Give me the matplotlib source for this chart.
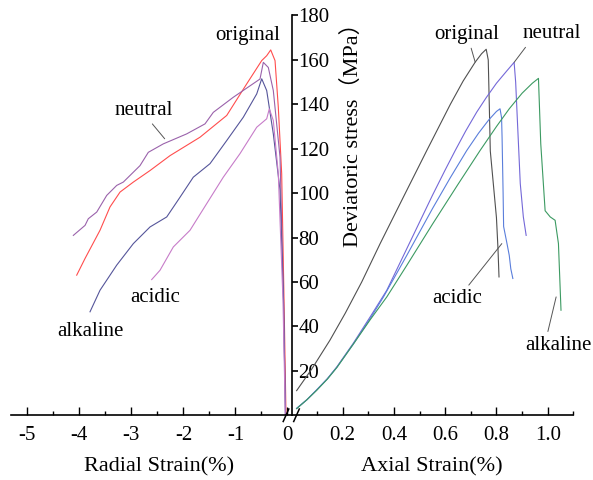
import matplotlib
matplotlib.use("Agg")
import matplotlib.pyplot as plt
from matplotlib.lines import Line2D
from matplotlib.ticker import FixedLocator

plt.rcParams['font.family'] = ['Liberation Serif', 'Noto Sans CJK SC', 'DejaVu Sans']
plt.rcParams['axes.unicode_minus'] = False

# ---------------- data: radial strain (left) ----------------
rad_original_x = [-4.052, -3.892, -3.604, -3.412, -3.219, -2.963, -2.642, -2.258, -1.681, -1.167,
                  -0.783, -0.494, -0.398, -0.321, -0.238, -0.175, -0.110, -0.065, -0.027]
rad_original_y = [63.1, 70.6, 83.3, 93.8, 100.5, 105.0, 110.2, 116.9, 125.2, 135.0,
                  149.2, 159.7, 161.9, 164.5, 159.7, 138.7, 108.8, 51.8, 0.0]

rad_neutral_x = [-4.117, -3.892, -3.829, -3.667, -3.475, -3.283, -3.156, -2.835, -2.675, -2.387,
                 -1.937, -1.585, -1.425, -1.040, -0.527, -0.463, -0.367, -0.271, -0.142, -0.075, -0.037]
rad_neutral_y = [81.0, 85.5, 88.5, 91.5, 99.0, 103.5, 105.0, 112.4, 118.4, 122.2,
                 126.7, 131.2, 136.4, 143.2, 151.4, 158.9, 156.6, 146.2, 116.2, 51.8, 0.0]

rad_alkaline_x = [-3.796, -3.604, -3.283, -2.963, -2.642, -2.321, -2.065, -1.810, -1.488, -1.167,
                  -0.848, -0.590, -0.494, -0.398, -0.271, -0.142, -0.075, -0.037]
rad_alkaline_y = [46.6, 56.3, 67.6, 77.3, 84.8, 89.3, 98.2, 107.2, 113.3, 123.7,
                  134.2, 144.7, 151.5, 146.2, 126.7, 101.3, 51.8, 0.0]

rad_acidic_x = [-2.610, -2.450, -2.194, -1.873, -1.552, -1.233, -0.912, -0.590, -0.398, -0.348,
                -0.271, -0.175, -0.085, -0.040]
rad_acidic_y = [61.1, 65.3, 75.8, 83.3, 95.3, 107.2, 117.8, 129.7, 133.5, 138.0,
                132.7, 108.8, 51.8, 0.0]

# ---------------- data: axial strain (right) ----------------
ax_original_x = [0.020, 0.080, 0.150, 0.210, 0.274, 0.346, 0.440, 0.528, 0.620, 0.670,
                 0.717, 0.742, 0.760, 0.768, 0.772, 0.776, 0.788, 0.800, 0.806, 0.810]
ax_original_y = [11.1, 21.0, 33.8, 46.0, 60.0, 77.3, 99.0, 119.2, 140.0, 150.5,
                 159.0, 162.8, 164.8, 160.0, 140.0, 119.0, 104.0, 89.0, 75.0, 62.3]

ax_neutral_x = [0.020, 0.060, 0.098, 0.140, 0.177, 0.241, 0.307, 0.372, 0.450, 0.550,
                0.600, 0.639, 0.680, 0.723, 0.760, 0.800, 0.840, 0.869, 0.875, 0.880,
                0.893, 0.905, 0.916]
ax_neutral_y = [3.1, 7.0, 11.4, 16.5, 21.8, 32.4, 44.3, 56.3, 75.0, 99.0,
                110.5, 119.2, 128.0, 136.5, 143.0, 149.5, 155.0, 158.9, 150.0, 137.2,
                104.3, 89.3, 81.0]

ax_acidic_x = [0.020, 0.060, 0.098, 0.140, 0.177, 0.241, 0.307, 0.359, 0.450, 0.550,
               0.620, 0.684, 0.730, 0.770, 0.800, 0.814, 0.820, 0.822, 0.826, 0.828,
               0.840, 0.850, 0.856, 0.864]
ax_acidic_y = [3.1, 7.0, 11.4, 16.4, 21.6, 32.0, 43.5, 53.3, 72.0, 93.0,
               107.0, 119.2, 127.0, 133.0, 136.8, 138.0, 134.0, 125.0, 100.0, 85.0,
               78.0, 72.0, 66.0, 61.6]

ax_alkaline_x = [0.020, 0.060, 0.098, 0.140, 0.177, 0.241, 0.307, 0.372, 0.450, 0.550,
                 0.650, 0.736, 0.800, 0.850, 0.900, 0.940, 0.964, 0.973, 0.990, 1.010,
                 1.029, 1.042, 1.052]
ax_alkaline_y = [3.0, 7.0, 11.2, 16.3, 21.5, 32.0, 43.0, 53.3, 67.5, 86.0,
                 104.0, 119.2, 130.0, 138.0, 145.0, 149.5, 151.7, 122.2, 92.1, 89.3,
                 87.8, 77.3, 47.3]

rad_ticks = [-5, -4, -3, -2, -1, 0]
rad_ticklabels = ['-5', '-4', '-3', '-2', '-1', '0']
ax_ticks = [0.2, 0.4, 0.6, 0.8, 1.0]
ax_ticklabels = ['0.2', '0.4', '0.6', '0.8', '1.0']
y_ticks = [20, 40, 60, 80, 100, 120, 140, 160, 180]

# colours
c_rad = {'original': '#ff4d4d', 'neutral': '#9a62ab', 'alkaline': '#55559a', 'acidic': '#c77cc9'}
c_ax = {'original': '#505050', 'neutral': '#7468d8', 'acidic': '#5a7edb', 'alkaline': '#3c9a62'}

W, H = 593, 480
fig = plt.figure(figsize=(W / 100, H / 100), dpi=100)

def fx(px):
    return px / W

def fy(py):
    return 1 - py / H

y_bot, y_top = 415.3, 15.5
axL = fig.add_axes([fx(11.3), fy(y_bot), fx(291.5) - fx(11.3), (y_bot - y_top) / H])
axR = fig.add_axes([fx(291.5), fy(y_bot), fx(573.3) - fx(291.5), (y_bot - y_top) / H])

lw = 0.8
axL.plot(rad_original_x, rad_original_y, color=c_rad['original'], lw=lw)
axL.plot(rad_neutral_x, rad_neutral_y, color=c_rad['neutral'], lw=lw)
axL.plot(rad_alkaline_x, rad_alkaline_y, color=c_rad['alkaline'], lw=lw)
axL.plot(rad_acidic_x, rad_acidic_y, color=c_rad['acidic'], lw=lw)

axR.plot(ax_original_x, ax_original_y, color=c_ax['original'], lw=lw)
axR.plot(ax_neutral_x, ax_neutral_y, color=c_ax['neutral'], lw=lw)
axR.plot(ax_acidic_x, ax_acidic_y, color=c_ax['acidic'], lw=lw)
axR.plot(ax_alkaline_x, ax_alkaline_y, color=c_ax['alkaline'], lw=lw)

for a in (axL, axR):
    a.set_ylim(0, 180)
    a.patch.set_alpha(0)
    for s in ('top', 'left', 'right'):
        a.spines[s].set_visible(False)
    a.spines['bottom'].set_linewidth(1.2)

axL.set_xlim(-5.31, 0.0788)
axR.set_xlim(0, 1.1)

tick_fs = 15
# left x axis
axL.xaxis.set_major_locator(FixedLocator(rad_ticks))
axL.set_xticklabels(rad_ticklabels)
axL.xaxis.set_minor_locator(FixedLocator([-4.5, -3.5, -2.5, -1.5, -0.5]))
axL.tick_params(axis='x', which='major', direction='in', length=6, width=1, labelsize=tick_fs, pad=8)
axL.tick_params(axis='x', which='minor', direction='in', length=3, width=1)
# y axis on the right spine of the left axes
axL.spines['right'].set_visible(True)
axL.spines['right'].set_linewidth(1.2)
axL.yaxis.tick_right()
axL.set_yticks(y_ticks)
axL.tick_params(axis='y', which='major', direction='out', length=4, width=1.2, labelsize=tick_fs, pad=1)
axL.tick_params(axis='y', which='minor', length=0)

# right x axis
axR.xaxis.set_major_locator(FixedLocator(ax_ticks))
axR.set_xticklabels(ax_ticklabels)
axR.xaxis.set_minor_locator(FixedLocator([0.1, 0.3, 0.5, 0.7, 0.9, 1.1]))
axR.tick_params(axis='x', which='major', direction='in', length=6, width=1, labelsize=tick_fs, pad=8)
axR.tick_params(axis='x', which='minor', direction='in', length=3, width=1)
axR.set_yticks([])

# axis titles
lab_fs = 16
fig.text(fx(159), fy(467), 'Radial Strain(%)', ha='center', va='center', fontsize=lab_fs)
fig.text(fx(432), fy(467), 'Axial Strain(%)', ha='center', va='center', fontsize=lab_fs)
fig.text(fx(352.5), fy(130), 'Deviatoric stress（MPa）', ha='center', va='center',
         rotation=90, fontsize=lab_fs)

# break marks
for cx in (286.0, 296.5):
    fig.add_artist(Line2D([fx(cx - 2.8), fx(cx + 2.8)], [fy(421.5), fy(409.0)],
                          color='black', lw=1.1))

# annotations
ann_fs = 15
lead = dict(arrowstyle='-', color='#555555', lw=0.7, shrinkA=1, shrinkB=0)
axL.text(-0.758, 170.9, 'original', ha='center', va='center', fontsize=ann_fs)
axL.annotate('neutral', xy=(-2.36, 124.5), xytext=(-2.771, 137.2), ha='center', va='center',
             fontsize=ann_fs, arrowprops=dict(lead, relpos=(0.6, 0.0)))
axL.text(-2.546, 53.2, 'acidic', ha='center', va='center', fontsize=ann_fs)
axL.text(-3.796, 37.6, 'alkaline', ha='center', va='center', fontsize=ann_fs)

axR.annotate('original', xy=(0.717, 159.0), xytext=(0.684, 171.4), ha='center', va='center',
             fontsize=ann_fs, arrowprops=dict(lead, relpos=(0.55, 0.0)))
axR.annotate('neutral', xy=(0.869, 158.9), xytext=(1.016, 171.7), ha='center', va='center',
             fontsize=ann_fs, arrowprops=dict(lead, relpos=(0.1, 0.0)))
axR.annotate('acidic', xy=(0.821, 77.3), xytext=(0.645, 52.6), ha='center', va='center',
             fontsize=ann_fs, arrowprops=dict(lead, relpos=(0.68, 1.0)))
axR.annotate('alkaline', xy=(1.033, 53.3), xytext=(1.041, 31.6), ha='center', va='center',
             fontsize=ann_fs, annotation_clip=False, arrowprops=dict(lead, relpos=(0.33, 1.0)))

fig.savefig('out.png', dpi=100)
